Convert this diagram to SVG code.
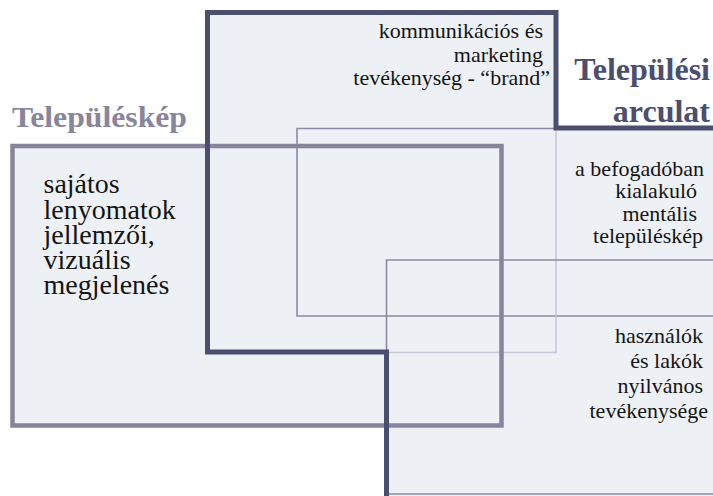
<svg xmlns="http://www.w3.org/2000/svg" width="713" height="496" viewBox="0 0 713 496">
<style>
.fill{fill:#edf1f6;stroke:none}
.dark{fill:none;stroke:#4b4e6e;stroke-width:5}
.gray{fill:none;stroke:#87849b;stroke-width:4.5}
.thin{fill:none;stroke:#8c8aa2;stroke-width:1.6}
.light{fill:none;stroke:#c6c8d7;stroke-width:1.6}
text{font-family:"Liberation Serif","Times New Roman",serif;fill:#141414}
.body{font-size:22px}
.big{font-size:28px}
.t1{font-size:30px;font-weight:bold;fill:#88859c}
.t2{font-size:32px;font-weight:bold;fill:#4b4e6e}
</style>
<rect width="713" height="496" fill="#ffffff"/>
<g id="fills">
<path class="fill" d="M207.5,12.5 H556 V128 H720 V500 H386.5 V352 H207.5 Z"/>
<rect class="fill" x="12.5" y="146" width="489" height="279.5"/>
</g>
<g id="kommunikacio">
<path class="thin" d="M720,128.5 H297 V316 H720"/>
<path class="light" d="M556,128.5 V352.5 H386.5"/>
</g>
<g id="hasznalok">
<path class="thin" d="M720,260 H386.5 V494 H720"/>
</g>
<g id="telepuleskep">
<rect class="gray" x="12.5" y="146" width="489" height="279.5"/>
<text class="t1" x="12" y="127" textLength="175" lengthAdjust="spacingAndGlyphs">Településkép</text>
<text class="big" x="43.5" y="193">sajátos</text>
<text class="big" x="43.5" y="219">lenyomatok</text>
<text class="big" x="43.5" y="244">jellemzői,</text>
<text class="big" x="43.5" y="269">vizuális</text>
<text class="big" x="43.5" y="294">megjelenés</text>
</g>
<g id="telepulesi-arculat">
<path class="dark" d="M386.5,500 V352 H207.5 V12.5 H556 V128 H720"/>
<text class="t2" x="710" y="79.5" text-anchor="end">Települési</text>
<text class="t2" x="710" y="121.5" text-anchor="end">arculat</text>
</g>
<g id="brand-text">
<text class="body" x="543" y="38" text-anchor="end">kommunikációs és</text>
<text class="body" x="543" y="61.5" text-anchor="end">marketing</text>
<text class="body" x="550" y="85" text-anchor="end">tevékenység - “brand”</text>
</g>
<g id="mentalis-text">
<text class="body" x="704" y="175.5" text-anchor="end">a befogadóban</text>
<text class="body" x="697" y="198" text-anchor="end">kialakuló</text>
<text class="body" x="697" y="220.5" text-anchor="end">mentális</text>
<text class="body" x="703" y="243" text-anchor="end">településkép</text>
</g>
<g id="nyilvanos-text">
<text class="body" x="703" y="343" text-anchor="end">használók</text>
<text class="body" x="703" y="368" text-anchor="end">és lakók</text>
<text class="body" x="703" y="393" text-anchor="end">nyilvános</text>
<text class="body" x="708" y="418" text-anchor="end">tevékenysége</text>
</g>
<g id="connectors"/>
</svg>
